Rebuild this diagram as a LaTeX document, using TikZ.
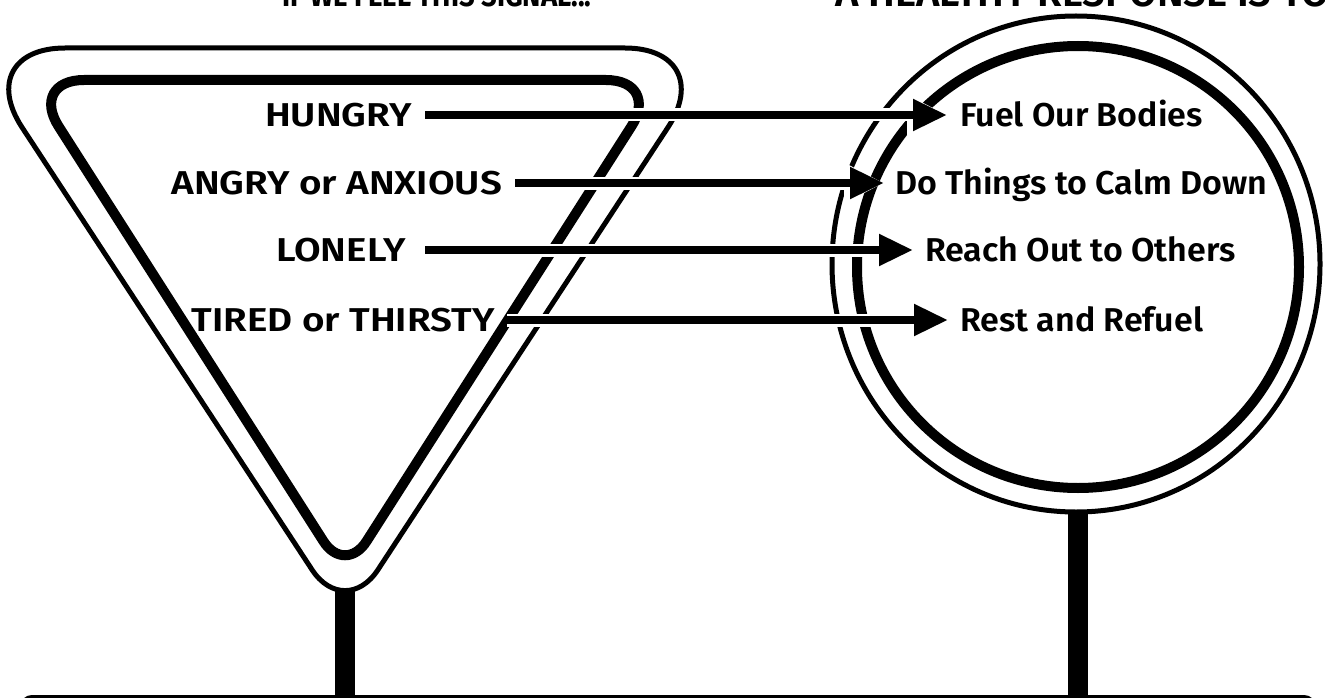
\documentclass[tikz,border=0pt]{standalone}
\usepackage{fontspec}
\setmainfont{Fira Sans}[BoldFont={Fira Sans SemiBold}]
\newfontfamily\capsfont{Fira Sans}[FakeStretch=1.17, BoldFont={Fira Sans SemiBold}]
\newfontfamily\respfont{Fira Sans}[FakeStretch=1.03, BoldFont={Fira Sans SemiBold}]
\newfontfamily\titlefont{Fira Sans}[FakeStretch=0.86]
\usetikzlibrary{arrows.meta}
\begin{document}
\begin{tikzpicture}[x=1pt,y=-1pt,
  thinline/.style={line width=5pt},
  thickline/.style={line width=10pt},
  pole/.style={line width=20pt},
  lbl/.style={inner sep=0pt, text height=23pt, text depth=0pt},
  signal/.style={lbl, anchor=east, font=\capsfont\fontsize{33}{33}\selectfont\bfseries},
  response/.style={lbl, anchor=west, font=\respfont\fontsize{33}{33}\selectfont\bfseries},
  ttl/.style={inner sep=0pt},
  conn/.style={line width=8pt, -{Triangle[length=34pt,width=30pt]},
    preaction={draw=white, line width=13pt, -{Triangle[length=40pt,width=38pt]}}},
 ]
\useasboundingbox (0,0) rectangle (1325,698);
\clip (0,0) rectangle (1325,698);
% titles (cut off at the top)
\node[ttl, anchor=base, font=\titlefont\fontsize{32}{32}\selectfont\bfseries] (t1) at (437,7) {IF WE FEEL THIS SIGNAL...};
\node[ttl, anchor=base west, font=\fontsize{40}{40}\selectfont\bfseries] (t2) at (835,7) {A HEALTHY RESPONSE IS TO};
% yield sign
\draw[thinline] (345,48) [rounded corners=95pt] -- (720,48) [rounded corners=60pt] -- (345,620) [rounded corners=95pt] -- (-30,48) [sharp corners] -- cycle;
\draw[thickline] (345,80) [rounded corners=55pt] -- (661,80) [rounded corners=40pt] -- (345,575) [rounded corners=55pt] -- (29,80) [sharp corners] -- cycle;
\draw[pole] (345,588) -- (345,705);
% round sign
\draw[thinline] (1076,264) ellipse [x radius=244pt, y radius=248pt];
\draw[thickline] (1078,267) circle [radius=221pt];
\draw[pole] (1078,511) -- (1078,705);
% bottom panel
\draw[line width=4pt, rounded corners=10pt] (22,697) rectangle (1314,760);
% labels
\node[signal] (hungry) at (412,115) {HUNGRY};
\node[signal] (angry) at (502,183) {ANGRY or ANXIOUS};
\node[signal] (lonely) at (406,250) {LONELY};
\node[signal] (tired) at (495,320) {TIRED or THIRSTY};
\node[response] (fuel) at (960,115) {Fuel Our Bodies};
\node[response] (calm) at (895,183) {Do Things to Calm Down};
\node[response] (reach) at (925,250) {Reach Out to Others};
\node[response] (rest) at (960,320) {Rest and Refuel};
% connectors
\draw[conn] ([xshift=13pt]hungry.east) -- ([xshift=-13pt]fuel.west);
\draw[conn] ([xshift=13pt]angry.east) -- ([xshift=-11pt]calm.west);
\draw[conn] ([xshift=19pt]lonely.east) -- ([xshift=-12pt]reach.west);
\draw[conn] ([xshift=12pt]tired.east) -- ([xshift=-12pt]rest.west);
\end{tikzpicture}
\end{document}
